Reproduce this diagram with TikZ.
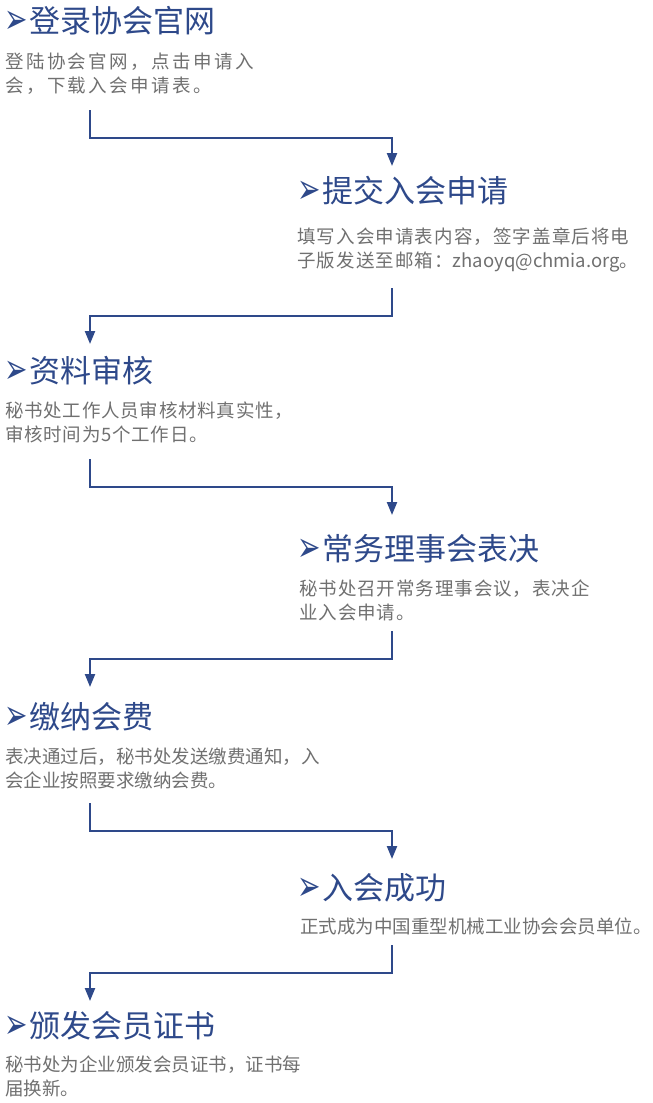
\documentclass[tikz,border=0pt]{standalone}
\usepackage{fontspec}
\setmainfont{Noto Sans CJK SC}
\newfontfamily\symfont{DejaVu Sans}
\usetikzlibrary{arrows.meta}
\definecolor{titleblue}{RGB}{46,73,138}
\definecolor{descgray}{RGB}{112,112,112}
\tikzset{
    > = {Triangle[width=10pt, length=13pt]},
    flow/.style = {->, draw=titleblue, line width=2.2pt},
    title/.style = {anchor=west, inner sep=0pt, text=titleblue, font=\fontsize{31}{36}\selectfont},
    desc/.style = {anchor=north west, inner sep=0pt, align=left, text=descgray, font=\fontsize{18.5}{24}\selectfont}
}
\newcommand{\headarrow}{\raisebox{-1pt}{\scalebox{1}[1.5]{\symfont\bfseries\fontsize{28}{28}\selectfont ➢}}\hspace{2pt}}

\begin{document}
\begin{tikzpicture}[x=1pt, y=-1pt]
    \useasboundingbox (0,0) rectangle (653,1103);

    \node[title] (t1) at (4, 21) {\headarrow 登录协会官网};
    \node[desc] (d1) at (5, 53) {\addfontfeature{LetterSpace=13}登陆协会官网，点击申请入\\\addfontfeature{LetterSpace=13}会，下载入会申请表。};
    \node[title] (t2) at (297, 191) {\headarrow 提交入会申请};
    \node[desc] (d2) at (297, 227) {\addfontfeature{LetterSpace=6}填写入会申请表内容，签字盖章后将电\\\addfontfeature{LetterSpace=6}子版发送至邮箱：{\addfontfeature{LetterSpace=0}zhaoyq@chmia.org}。};
    \node[title] (t3) at (4, 371) {\headarrow 资料审核};
    \node[desc] (d3) at (5, 402) {\addfontfeature{LetterSpace=4}秘书处工作人员审核材料真实性，\\\addfontfeature{LetterSpace=4}审核时间为5个工作日。};
    \node[title] (t4) at (297, 549) {\headarrow 常务理事会表决};
    \node[desc] (d4) at (299, 580) {\addfontfeature{LetterSpace=5}秘书处召开常务理事会议，表决企\\\addfontfeature{LetterSpace=5}业入会申请。};
    \node[title] (t5) at (4, 717) {\headarrow 缴纳会费};
    \node[desc] (d5) at (5, 748) {表决通过后，秘书处发送缴费通知，入\\会企业按照要求缴纳会费。};
    \node[title] (t6) at (297, 888) {\headarrow 入会成功};
    \node[desc] (d6) at (300, 918) {正式成为中国重型机械工业协会会员单位。};
    \node[title] (t7) at (4, 1026) {\headarrow 颁发会员证书};
    \node[desc] (d7) at (5, 1056) {秘书处为企业颁发会员证书，证书每\\届换新。};

    \coordinate (s1) at (90, 110);
    \coordinate (e1) at (392, 166);
    \coordinate (s2) at (392, 288);
    \coordinate (e2) at (90, 344);
    \coordinate (s3) at (90, 459);
    \coordinate (e3) at (392, 515);
    \coordinate (s4) at (392, 631);
    \coordinate (e4) at (90, 687);
    \coordinate (s5) at (90, 803);
    \coordinate (e5) at (392, 859);
    \coordinate (s6) at (392, 945);
    \coordinate (e6) at (90, 1001);

    \draw[flow] (s1) -- ++(0, 28) -| (e1);
    \draw[flow] (s2) -- ++(0, 28) -| (e2);
    \draw[flow] (s3) -- ++(0, 28) -| (e3);
    \draw[flow] (s4) -- ++(0, 28) -| (e4);
    \draw[flow] (s5) -- ++(0, 28) -| (e5);
    \draw[flow] (s6) -- ++(0, 28) -| (e6);
\end{tikzpicture}
\end{document}
